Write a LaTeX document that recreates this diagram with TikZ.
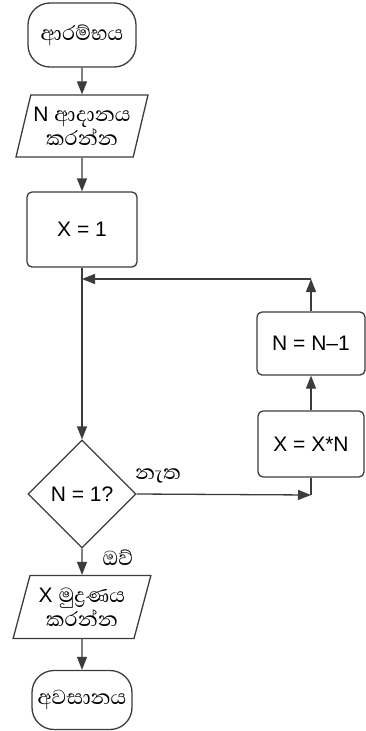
\documentclass[tikz,border=0pt]{standalone}
\usepackage{fontspec}
\setmainfont{Liberation Sans}
\newfontfamily\sinhf[Script=Sinhala]{Abhaya Libre}
\newcommand{\sz}{\fontsize{26}{24}\selectfont}
\usetikzlibrary{shapes.geometric,arrows.meta}
\definecolor{ln}{HTML}{3C3C3C}
\begin{document}
\begin{tikzpicture}[x=1pt,y=1pt,
  every node/.style={text=black,font=\fontsize{21}{24}\selectfont},
  base/.style={draw=ln,line width=1.3pt,inner sep=0pt,align=center},
  term/.style={base,rectangle,rounded corners=22pt},
  procbox/.style={base,rectangle,rounded corners=5pt},
  iobox/.style={base,trapezium,trapezium left angle=70,trapezium right angle=110,trapezium stretches=true},
  decbox/.style={base,diamond,aspect=1},
  arr/.style={draw=ln,line width=1.3pt,-{Triangle[length=13pt,width=10pt]}},
  lnk/.style={draw=ln,line width=1.3pt},
  sl/.style={font=\sz\sinhf}
]
\useasboundingbox (0,0) rectangle (366,-731);
\fill[white] (0,0) rectangle (366,-731);

\node[term,minimum width=108,minimum height=64,sl] (start) at (82,-35) {ආරම්භය};
\node[iobox,minimum width=132,minimum height=62] (in) at (82,-126) {N {\sinhf\sz ආදානය}\\{\sinhf\sz කරන්න}};
\node[procbox,minimum width=110,minimum height=75] (x1) at (82,-229.5) {X = 1};
\node[decbox,minimum width=108,minimum height=108] (d) at (82,-494) {N = 1?};
\node[iobox,minimum width=138,minimum height=63] (out) at (82,-607) {X {\sinhf\sz මුද්^^^^200dරණය}\\{\sinhf\sz කරන්න}};
\node[term,minimum width=100,minimum height=59,sl] (end) at (82,-700) {අවසානය};
\node[procbox,minimum width=108,minimum height=63] (nm) at (311,-343.5) {N = N–1};
\node[procbox,minimum width=106,minimum height=66] (xn) at (311,-444) {X = X*N};

\coordinate (fb) at (311,-279);
\coordinate (j) at (82,-279);
\coordinate (c) at (311,-495);

\draw[arr] (start.south) -- (in.north);
\draw[arr] (in.south) -- (x1.north);
\draw[arr] (x1.south) -- (d.north);
\draw[arr] (d.south) -- (out.north);
\draw[arr] (out.south) -- (end.north);
\draw[arr] (d.east) -- (c);
\draw[lnk] (c) -- (xn.south);
\draw[arr] (xn.north) -- (nm.south);
\draw[arr] (nm.north) -- (fb);
\draw[arr] (fb) -- (j);

\node[sl,anchor=center] (no) at (158,-476) {නැත};
\node[sl,anchor=center] (yes) at (118,-558) {ඔව්};
\end{tikzpicture}
\end{document}
